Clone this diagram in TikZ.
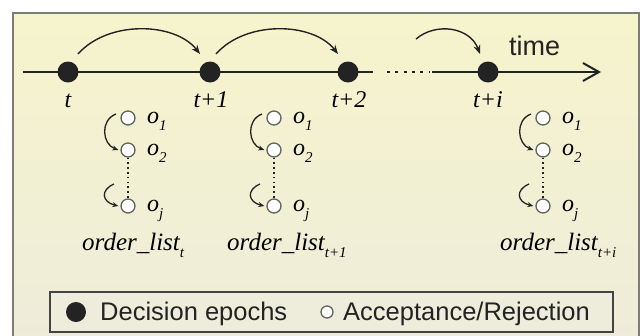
\documentclass[tikz,border=0pt]{standalone}
\usepackage{fontspec}
\setmainfont{Liberation Serif}
\newfontfamily\sansf{Liberation Sans}
\usetikzlibrary{arrows.meta,calc}
\definecolor{paneltop}{RGB}{246,244,204}
\definecolor{panelbot}{RGB}{238,236,218}
\definecolor{frame}{RGB}{125,125,118}
\definecolor{ink}{RGB}{35,35,35}
\tikzset{
  epoch/.style={circle,fill=ink,inner sep=0pt,minimum size=21pt},
  ordc/.style={circle,draw=frame!80!black,fill=white,line width=1.3pt,inner sep=0pt,minimum size=14pt},
  tlabel/.style={anchor=base,inner sep=0pt,font=\fontsize{24}{24}\selectfont\itshape},
  olabel/.style={anchor=base west,inner sep=0pt,font=\fontsize{24}{24}\selectfont\itshape},
  listlabel/.style={anchor=base west,inner sep=0pt,font=\fontsize{25}{25}\selectfont\itshape},
  legtext/.style={anchor=base west,inner sep=0pt,font=\sansf\fontsize{25.5}{25.5}\selectfont,text=ink},
  hop/.style={draw=ink,line width=1.4pt,-{Stealth[length=9pt,width=7pt]}},
  pick/.style={draw=ink,line width=1.3pt,-{Stealth[length=6pt,width=5pt]}},
  axis/.style={draw=ink,line width=2.4pt},
}
\newcommand{\sub}[1]{\raisebox{-7pt}{\fontsize{15}{15}\selectfont #1}}
\begin{document}
\begin{tikzpicture}[x=1pt,y=-1pt]
\useasboundingbox (0,0) rectangle (642,335);
\clip (0,0) rectangle (642,335);
% panel
\shade[top color=paneltop,bottom color=panelbot] (13,13) rectangle (639,345);
\draw[frame,line width=2pt] (13,13) rectangle (639,345);

% time axis
\coordinate (ax0) at (23,72);
\coordinate (gapL) at (373,72);
\coordinate (gapR) at (432,72);
\coordinate (ax1) at (601,72);
\draw[axis] (ax0) -- (gapL);
\draw[ink,line width=2.6pt,dash pattern=on 3pt off 5.3pt] (387,72) -- (430,72);
\draw[axis,-{Straight Barb[length=16pt,width=18pt,line width=2pt]}] (gapR) -- (ax1);

\node[epoch] (d0) at (68,72) {};
\node[epoch] (d1) at (210,72) {};
\node[epoch] (d2) at (348,72) {};
\node[epoch] (d3) at (488,72) {};

\node[tlabel] (l0) at (68,107) {t};
\node[tlabel] (l1) at (211,107) {t+1};
\node[tlabel] (l2) at (349,107) {t+2};
\node[tlabel] (l3) at (488,107) {t+i};

\node[anchor=base west,inner sep=0pt,font=\sansf\fontsize{27}{27}\selectfont,text=ink] (time) at (509,55) {time};

% hops between decision epochs
\draw[hop] ($(d0)+(10,-18)$) .. controls ($(d0)+(40,-52)$) and ($(d1)+(-35,-50)$) .. ($(d1)+(-10,-18)$);
\draw[hop] ($(d1)+(6,-18)$) .. controls ($(d1)+(36,-52)$) and ($(d2)+(-35,-50)$) .. ($(d2)+(-10,-18)$);
\draw[hop] ($(d3)+(-72,-33)$) .. controls ($(d3)+(-52,-50)$) and ($(d3)+(-18,-45)$) .. ($(d3)+(-8,-18)$);

% order lists
\foreach \c/\x/\s/\dx in {a/128/t/-46, b/274/t+1/-47, c/543/t+i/-43}{
  \node[ordc] (\c1) at (\x,118) {};
  \node[ordc] (\c2) at (\x,150) {};
  \node[ordc] (\c3) at (\x,206) {};
  \draw[ink,line width=1.6pt,dash pattern=on 1.6pt off 3.2pt] (\c2.south) -- (\c3.north);
  \node[olabel] at ($(\c1.center)+(19,5)$) {o\sub{1}};
  \node[olabel] at ($(\c2.center)+(19,5)$) {o\sub{2}};
  \node[olabel] at ($(\c3.center)+(19,5)$) {o\sub{j}};
  \draw[pick] ($(\c1.center)+(-12,-4)$) .. controls ($(\c1.center)+(-28,2)$) and ($(\c2.center)+(-26,-6)$) .. ($(\c2.west)+(-2,0)$);
  \draw[pick] ($(\c3.center)+(-14,-22)$) .. controls ($(\c3.center)+(-28,-16)$) and ($(\c3.center)+(-26,-4)$) .. ($(\c3.west)+(-2,0)$);
  \node[listlabel] at (\x+\dx,250) {order\_list\sub{\s}};
}

% legend
\node[draw=ink!85,line width=1.5pt,fill=panelbot,minimum width=563pt,minimum height=40pt,inner sep=0pt] (leg) at (331.5,312) {};
\node[circle,fill=ink,inner sep=0pt,minimum size=20pt] (kd) at (76,312) {};
\node[legtext] (kdt) at (100,320) {Decision epochs};
\node[ordc,minimum size=12pt] (ko) at (327,312) {};
\node[legtext] (kot) at (343,320) {Acceptance/Rejection};
\end{tikzpicture}
\end{document}
